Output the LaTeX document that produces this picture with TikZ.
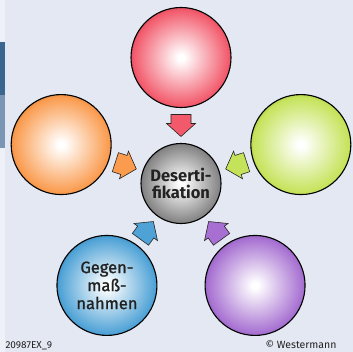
\documentclass[tikz,border=0pt]{standalone}
\usepackage{fontspec}
\setmainfont{Fira Sans}
\newfontfamily\medfont{Fira Sans}[FakeBold=1.3]
\usetikzlibrary{calc,positioning}
\definecolor{bgc}{HTML}{E4E8F2}
\definecolor{stripc}{HTML}{EEF1F8}
\definecolor{darkbar}{HTML}{3A6690}
\definecolor{lightbar}{HTML}{7B95B5}
\definecolor{redc}{HTML}{F2596B}
\definecolor{orangec}{HTML}{FA9B4E}
\definecolor{greenc}{HTML}{C5E35A}
\definecolor{bluec}{HTML}{4EA2D6}
\definecolor{purplec}{HTML}{A66FD1}
\definecolor{grayc}{HTML}{858585}
\definecolor{txtc}{HTML}{222222}
\colorlet{ballc}{white}
\pgfdeclareradialshading[ballc]{softball}{\pgfpointorigin}{color(0bp)=(white); color(1.5bp)=(white); color(24bp)=(ballc); color(25bp)=(ballc!92!black); color(50bp)=(ballc!92!black)}
\tikzset{
  ball/.style={circle,draw=black,line width=1.1pt,minimum size=100pt,inner sep=0pt,
    /utils/exec={\colorlet{ballc}{#1}},shade,shading=softball,
    align=center,text=txtc,font=\medfont\fontsize{16.5}{18}\selectfont},
  tip/.style={draw=black!85,line width=0.6pt,fill=#1},
}

\begin{document}
\begin{tikzpicture}[x=1pt,y=1pt]
   \useasboundingbox[fill=bgc] (0,0) rectangle (353,-352);
   % Randleiste
   \fill[stripc] (0,0) rectangle (5,-352);
   \fill[darkbar] (0,-42) rectangle (5,-95);
   \fill[lightbar] (0,-95) rectangle (5,-148);
   \node[ball=grayc,minimum size=80pt,font=\bfseries\fontsize{16.5}{17.5}\selectfont](des) at (181,-183.5){Deserti-\\fikation};
   \node[ball=redc](ball_top) at ($(des)+(90:126)$){};
   \node[ball=orangec](ball_left) at ($(des)+(162:126)$){};
   \node[ball=greenc](ball_right) at ($(des)+(18:126)$){};
   \node[ball=bluec](ball_bl) at ($(des)+(234:126)$){Gegen-\\maß-\\nahmen};
   \node[ball=purplec](ball_br) at ($(des)+(306:126)$){};
   % Pfeile zur Mitte
   \foreach \a/\c in {90/redc,162/orangec,18/greenc,234/bluec,306/purplec}{
     \begin{scope}[shift={(des.center)},rotate=\a]
       \draw[tip=\c] (69,-10) -- (60,-10) -- (60,-14.5) -- (47,0) -- (60,14.5) -- (60,10) -- (69,10) -- cycle;
     \end{scope}
   }
   \node[anchor=base west,text=txtc,font=\fontsize{10}{12}\selectfont](code) at (2,-348.5){20987EX\_9};
   \node[anchor=base west,text=txtc,font=\fontsize{10.5}{12}\selectfont](copy) at (262,-348.5){© Westermann};
\end{tikzpicture}
\end{document}
